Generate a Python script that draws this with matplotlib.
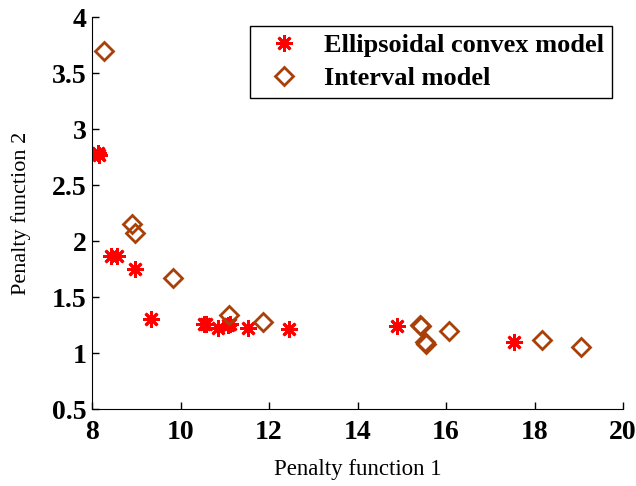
import numpy as np
import matplotlib
matplotlib.use('Agg')
import matplotlib.pyplot as plt

# Pareto fronts of the two uncertainty models
ell_f1 = [8.13, 8.16, 8.43, 8.56, 8.97, 9.33, 10.53, 10.58, 10.85, 11.07, 11.12, 11.53, 12.45, 14.89, 17.54]
ell_f2 = [2.79, 2.77, 1.87, 1.87, 1.75, 1.30, 1.26, 1.26, 1.22, 1.25, 1.26, 1.22, 1.21, 1.24, 1.10]

int_f1 = [8.27, 8.90, 8.97, 9.83, 11.10, 11.86, 15.41, 15.44, 15.52, 15.55, 16.07, 18.17, 19.05]
int_f2 = [3.70, 2.15, 2.07, 1.67, 1.34, 1.28, 1.25, 1.24, 1.10, 1.08, 1.20, 1.12, 1.05]

xticks = [8, 10, 12, 14, 16, 18, 20]
yticks = [0.5, 1, 1.5, 2, 2.5, 3, 3.5, 4]
ytick_labels = ['0.5', '1', '1.5', '2', '2.5', '3', '3.5', '4']

plt.rcParams['font.family'] = ['Liberation Serif', 'DejaVu Serif']

fig = plt.figure(figsize=(6.36, 4.86), dpi=100)
ax = fig.add_axes([0.1447, 0.1584, 0.8349, 0.8066])

ax.plot(ell_f1, ell_f2, linestyle='none', marker=(8, 2, 0), markersize=12,
        markeredgewidth=2, color='#ff0000', label='Ellipsoidal convex model')
ax.plot(int_f1, int_f2, linestyle='none', marker='D', markersize=9.5,
        markeredgewidth=2, markerfacecolor='none', markeredgecolor='#a8400a',
        label='Interval model')

ax.set_xlim(8, 20)
ax.set_ylim(0.5, 4)
ax.set_xticks(xticks)
ax.set_yticks(yticks)
ax.set_yticklabels(ytick_labels)
for lab in ax.get_xticklabels() + ax.get_yticklabels():
    lab.set_fontweight('bold')
    lab.set_fontsize(20)
ax.tick_params(direction='in', length=5, width=1)
ax.tick_params(axis='x', pad=8)
ax.tick_params(axis='y', pad=4)
ax.spines['top'].set_visible(False)
ax.spines['right'].set_visible(False)

ax.set_xlabel('Penalty function 1', fontsize=16.5, labelpad=10)
ax.set_ylabel('Penalty function 2', fontsize=16, labelpad=15)

leg = ax.legend(loc='upper right', bbox_to_anchor=(0.979, 0.977),
                borderaxespad=0, prop={'weight': 'bold', 'size': 19},
                fancybox=False, framealpha=1, edgecolor='black',
                borderpad=0.3, labelspacing=0.35, handletextpad=0.5,
                handlelength=2.0)
leg.get_frame().set_linewidth(1)

fig.savefig('out.png', dpi=100)
